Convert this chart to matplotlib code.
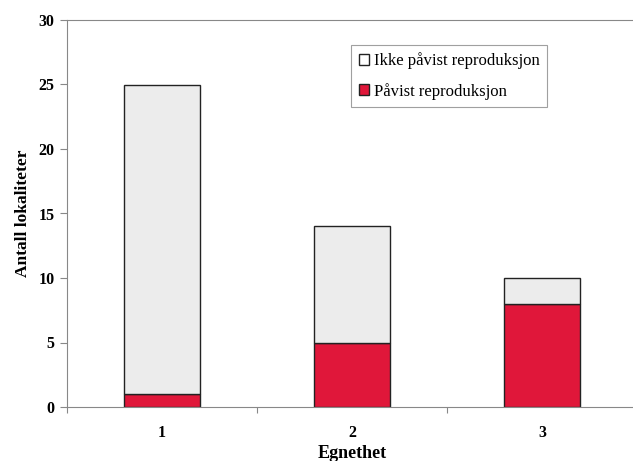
import matplotlib.pyplot as plt
from matplotlib.patches import Patch

# Data
kategorier = [1, 2, 3]
pavist = [1, 5, 8]          # Påvist reproduksjon
ikke_pavist = [24, 9, 2]    # Ikke påvist reproduksjon
y_ticks = [0, 5, 10, 15, 20, 25, 30]

plt.rcParams['font.family'] = ['Liberation Serif', 'DejaVu Serif']

rod = '#e0173a'
gra = '#ececec'

fig = plt.figure(figsize=(6.33, 4.61), dpi=100)
ax = fig.add_axes([67 / 633, 54 / 461, 570 / 633, 387 / 461])

ax.bar(kategorier, pavist, width=0.4, color=rod, edgecolor='#222222', linewidth=1.0)
ax.bar(kategorier, ikke_pavist, width=0.4, bottom=pavist, color=gra,
       edgecolor='#222222', linewidth=1.0)

ax.set_xlim(0.5, 3.5)
ax.set_ylim(0, 30)
ax.set_yticks(y_ticks)
ax.set_yticklabels([str(t) for t in y_ticks], fontsize=11.5, fontweight='bold')

# category boundaries as ticks, labels in the middle
ax.set_xticks([0.5, 1.5, 2.5, 3.5])
ax.set_xticklabels([])
ax.set_xticks(kategorier, minor=True)
ax.set_xticklabels([str(k) for k in kategorier], minor=True, fontsize=11.5, fontweight='bold')
ax.tick_params(axis='x', which='minor', length=0, pad=13)
ax.tick_params(axis='x', which='major', length=4, color='#888888')
ax.tick_params(axis='y', length=5, color='#888888', pad=4)

for s in ['left', 'bottom', 'top']:
    ax.spines[s].set_color('#888888')
ax.spines['right'].set_visible(False)

ax.set_xlabel('Egnethet', fontsize=13, fontweight='bold', labelpad=3)
ax.set_ylabel('Antall lokaliteter', fontsize=12.5, fontweight='bold', labelpad=5)

handles = [Patch(facecolor='white', edgecolor='#222222', label='Ikke påvist reproduksjon'),
           Patch(facecolor=rod, edgecolor='#222222', label='Påvist reproduksjon')]
leg = ax.legend(handles=handles, loc='upper left', bbox_to_anchor=(284 / 570, 1 - 25 / 387),
                fontsize=12, frameon=True, fancybox=False, handlelength=0.65,
                handleheight=0.65, handletextpad=0.25, labelspacing=0.8, borderpad=0.45,
                borderaxespad=0)
leg.get_frame().set_edgecolor('#888888')
leg.get_frame().set_linewidth(0.8)

fig.savefig('out.png', dpi=100)
